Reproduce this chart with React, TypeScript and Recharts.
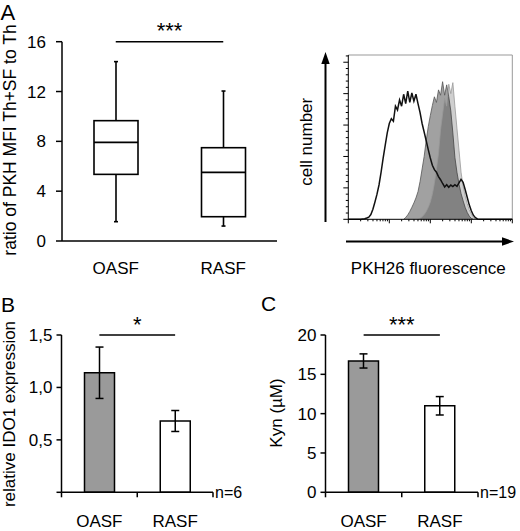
import React from "react";
import {
  ComposedChart,
  BarChart,
  Bar,
  Area,
  Line,
  XAxis,
  YAxis,
  ErrorBar,
  Cell,
  ReferenceLine,
} from "recharts";

const FONT = '"Liberation Sans", Arial, Helvetica, sans-serif';

const GROUPS = ["OASF", "RASF"];

// panel A left: box plot summaries per group
const BOX_MIN = [1.55, 1.2];
const BOX_Q1 = [5.35, 1.95];
const BOX_MEDIAN = [7.92, 5.51];
const BOX_Q3 = [9.66, 7.49];
const BOX_MAX = [14.4, 12.04];
const BOX_TICKS = [0, 4, 8, 12, 16];

// panel B: relative IDO1 expression
const IDO1_MEAN = [1.14, 0.68];
const IDO1_ERR = [0.245, 0.1];
const IDO1_TICKS = [0, 0.5, 1, 1.5];

// panel C: Kyn (uM)
const KYN_MEAN = [16.7, 11.0];
const KYN_ERR = [0.9, 1.17];
const KYN_TICKS = [0, 5, 10, 15, 20];

// panel A right: PKH26 histograms, x in log decades
const DECADE = [
  0, 0.3, 0.35, 0.4, 0.45, 0.5, 0.55, 0.6, 0.65, 0.7, 0.75, 0.8, 0.85, 0.9, 0.95,
  1.0, 1.05, 1.1, 1.15, 1.2, 1.25, 1.3, 1.35, 1.4, 1.45, 1.5, 1.55, 1.6, 1.65, 1.7,
  1.75, 1.8, 1.85, 1.9, 1.95, 2.0, 2.05, 2.1, 2.15, 2.2, 2.25, 2.3, 2.35, 2.4, 2.45,
  2.5, 2.55, 2.6, 2.65, 2.7, 2.75, 2.8, 2.85, 2.9, 2.95, 3.0, 3.05, 3.1, 3.15, 3.2, 4,
];
const OPEN = [
  0, 0, 0.01, 0.02, 0.04, 0.07, 0.15, 0.32, 0.55, 0.8, 1.1, 1.5, 1.95, 2.35, 2.75,
  3.05, 3.2, 3.12, 3.6, 3.48, 3.8, 3.6, 3.98, 3.68, 4.08, 3.72, 4.02, 3.76, 3.98, 3.68,
  3.4, 3.05, 2.78, 2.5, 2.22, 1.95, 1.72, 1.58, 1.5, 1.36, 1.26, 1.14, 1.03, 1.1, 1.02,
  1.09, 1.04, 1.1, 1.05, 1.16, 1.27, 1.18, 0.95, 0.7, 0.46, 0.27, 0.13, 0.05, 0.01, 0, 0,
];
const MEDIUM = [
  null, null, null, null, null, null, null, null, null, null, null, null, null, null, null,
  null, null, null, null, null, null, null, 0, 0.06, 0.14, 0.25, 0.38, 0.52, 0.68, 0.88,
  1.2, 1.6, 2.0, 2.5, 2.95, 3.3, 3.62, 3.9, 3.72, 4.12, 3.95, 4.38, 3.95, 4.28, 3.9,
  3.45, 2.75, 1.97, 1.5, 1.12, 0.82, 0.59, 0.38, 0.22, 0.1, 0.03, 0, null, null, null, null,
];
const LIGHT = [
  null, null, null, null, null, null, null, null, null, null, null, null, null, null, null,
  null, null, null, null, null, null, null, null, null, null, null, null, null, null, 0,
  0.03, 0.08, 0.15, 0.25, 0.38, 0.55, 0.8, 1.15, 1.6, 2.1, 2.85, 3.35, 3.85, 3.6, 4.3,
  4.0, 4.35, 3.6, 2.9, 2.2, 1.5, 1.05, 0.75, 0.5, 0.3, 0.17, 0.06, 0, null, null, null,
];
const HIST_TOP = 5.23;

const GROUP_FILL: Record<string, string> = { OASF: "#9a9a9a", RASF: "#ffffff" };

const boxData = GROUPS.map((name, i) => ({
  name,
  min: BOX_MIN[i],
  q1: BOX_Q1[i],
  median: BOX_MEDIAN[i],
  q3: BOX_Q3[i],
  max: BOX_MAX[i],
}));
const ido1Data = GROUPS.map((name, i) => ({ name, value: IDO1_MEAN[i], err: IDO1_ERR[i] }));
const kynData = GROUPS.map((name, i) => ({ name, value: KYN_MEAN[i], err: KYN_ERR[i] }));
const histData = DECADE.map((d, i) => ({ d, open: OPEN[i], medium: MEDIUM[i], light: LIGHT[i] }));

// axis ticks for the histogram frame (minor ticks every 0.2, log minors per decade)
const histYTicks: number[] = [];
for (let v = 0; v <= 5.2001; v += 0.2) histYTicks.push(Math.round(v * 10) / 10);
const histXTicks: number[] = [];
for (let k = 0; k < 4; k++) for (let m = 1; m <= 9; m++) histXTicks.push(k + Math.log10(m));
histXTicks.push(4);

const isMajor = (v: number) => Math.abs(v - Math.round(v)) < 1e-6;

function HistYTick({ x, y, payload }: any) {
  const len = isMajor(payload.value) ? 5 : 2.5;
  return <line x1={x} x2={x - len} y1={y} y2={y} stroke="#000" strokeWidth={1} />;
}

function HistXTick({ x, y, payload }: any) {
  const len = isMajor(payload.value) ? 4 : 2;
  return <line x1={x} x2={x} y1={y} y2={y + len} stroke="#000" strokeWidth={1} />;
}

function CategoryTick(props: any) {
  const { x, y, payload, index, baseline, edges } = props;
  const half = payload.offset ?? 0;
  const last = index === GROUPS.length - 1;
  return (
    <g>
      {edges && <line x1={x - half} x2={x - half} y1={y} y2={y + 5} stroke="#000" strokeWidth={1.5} />}
      {edges && last && (
        <line x1={x + half} x2={x + half} y1={y} y2={y + 5} stroke="#000" strokeWidth={1.5} />
      )}
      <text x={x} y={y + baseline} textAnchor="middle" fontSize={17} fill="#000">
        {payload.value}
      </text>
    </g>
  );
}

function BoxShape(props: any) {
  const { x, y, width, height } = props;
  const p = props.payload ?? props;
  const top = Math.min(y, y + height);
  const h = Math.abs(height);
  const toY = (v: number) => top + ((p.max - v) / (p.max - p.min)) * h;
  const cx = x + width / 2;
  return (
    <g stroke="#000" strokeWidth={1.6} fill="none">
      <line x1={cx} x2={cx} y1={toY(p.max)} y2={toY(p.q3)} />
      <line x1={cx} x2={cx} y1={toY(p.q1)} y2={toY(p.min)} />
      <line x1={cx - 2} x2={cx + 2} y1={toY(p.max)} y2={toY(p.max)} />
      <line x1={cx - 2} x2={cx + 2} y1={toY(p.min)} y2={toY(p.min)} />
      <rect x={x} y={toY(p.q3)} width={width} height={toY(p.q1) - toY(p.q3)} fill="#fff" />
      <line x1={x} x2={x + width} y1={toY(p.median)} y2={toY(p.median)} />
    </g>
  );
}

const axisStyle = { stroke: "#000", strokeWidth: 1.5 };
const tickText = { fill: "#000", fontSize: 17 };
const commaFmt = (v: number) => (v === 0 ? "" : v.toFixed(1).replace(".", ","));

function BarPanel({ data, ticks, fmt, yWidth, right, err }: any) {
  return (
    <BarChart width={260} height={241} data={data} margin={{ top: 45, right, bottom: 0, left: 0 }}>
      <XAxis
        dataKey="name"
        height={38.7}
        axisLine={axisStyle}
        tickLine={false}
        tickSize={0}
        tickMargin={0}
        interval={0}
        tick={(p: any) => <CategoryTick {...p} baseline={34.7} edges />}
      />
      <YAxis
        width={yWidth}
        domain={[ticks[0], ticks[ticks.length - 1]]}
        ticks={ticks}
        interval={0}
        axisLine={axisStyle}
        tickLine={axisStyle}
        tickSize={5}
        tickMargin={4}
        tick={tickText}
        tickFormatter={fmt}
      />
      <Bar dataKey="value" barSize={30} stroke="#000" strokeWidth={1.5} isAnimationActive={false}>
        {data.map((d: any) => (
          <Cell key={d.name} fill={GROUP_FILL[d.name]} />
        ))}
        <ErrorBar dataKey="err" width={4} stroke="#000" strokeWidth={1.5} />
      </Bar>
      <ReferenceLine
        segment={[
          { x: GROUPS[0], y: ticks[ticks.length - 1] },
          { x: GROUPS[1], y: ticks[ticks.length - 1] },
        ]}
        stroke="#000"
        strokeWidth={1.5}
        label={{ value: err, position: "top", offset: 3, fontSize: 22, fill: "#000" }}
      />
    </BarChart>
  );
}

export default function App() {
  return (
    <div
      style={{
        position: "absolute",
        left: 0,
        top: 0,
        width: 520,
        height: 531,
        background: "#fff",
        fontFamily: FONT,
        overflow: "hidden",
      }}
    >
      {/* A: box plot */}
      <div style={{ position: "absolute", left: 0, top: 0 }}>
        <ComposedChart width={280} height={290} data={boxData} margin={{ top: 41.7, right: 3, bottom: 0, left: 0 }}>
          <XAxis
            dataKey="name"
            height={49}
            axisLine={axisStyle}
            tickLine={false}
            tickSize={0}
            tickMargin={0}
            interval={0}
            tick={(p: any) => <CategoryTick {...p} baseline={33} edges={false} />}
          />
          <YAxis
            width={62}
            domain={[0, 16]}
            ticks={BOX_TICKS}
            interval={0}
            axisLine={axisStyle}
            tickLine={axisStyle}
            tickSize={6}
            tickMargin={10}
            tick={tickText}
          />
          <Bar
            dataKey={(d: any) => [d.min, d.max]}
            barSize={44}
            shape={(p: any) => <BoxShape {...p} />}
            isAnimationActive={false}
          />
          <ReferenceLine
            segment={[
              { x: GROUPS[0], y: 16 },
              { x: GROUPS[1], y: 16 },
            ]}
            stroke="#000"
            strokeWidth={1.5}
            label={{ value: "***", position: "top", offset: 4, fontSize: 22, fill: "#000" }}
          />
        </ComposedChart>
      </div>

      {/* A: PKH26 histogram */}
      <div style={{ position: "absolute", left: 300, top: 0 }}>
        <ComposedChart width={220} height={290} data={histData} margin={{ top: 55, right: 7.7, bottom: 0, left: 0 }}>
          <XAxis
            dataKey="d"
            type="number"
            domain={[0, 4]}
            ticks={histXTicks}
            interval={0}
            height={70.7}
            axisLine={{ stroke: "#000", strokeWidth: 1 }}
            tickLine={false}
            tickSize={0}
            tickMargin={0}
            tick={(p: any) => <HistXTick {...p} />}
          />
          <YAxis
            type="number"
            domain={[0, HIST_TOP]}
            ticks={histYTicks}
            interval={0}
            width={48.3}
            axisLine={{ stroke: "#000", strokeWidth: 1 }}
            tickLine={false}
            tickSize={0}
            tickMargin={0}
            tick={(p: any) => <HistYTick {...p} />}
          />
          <ReferenceLine y={HIST_TOP} stroke="#999" strokeWidth={1} />
          <ReferenceLine x={4} stroke="#999" strokeWidth={1} />
          <Area
            dataKey="medium"
            type="linear"
            fill="#000"
            fillOpacity={0.37}
            stroke="#555"
            strokeWidth={0.8}
            connectNulls={false}
            isAnimationActive={false}
          />
          <Area
            dataKey="light"
            type="linear"
            fill="#000"
            fillOpacity={0.19}
            stroke="#999"
            strokeWidth={0.8}
            connectNulls={false}
            isAnimationActive={false}
          />
          <Line dataKey="open" type="linear" stroke="#111" strokeWidth={1.5} dot={false} isAnimationActive={false} />
        </ComposedChart>
      </div>

      {/* B */}
      <div style={{ position: "absolute", left: 0, top: 290 }}>
        <BarPanel data={ido1Data} ticks={IDO1_TICKS} fmt={commaFmt} yWidth={61.5} right={47} err="*" />
      </div>

      {/* C */}
      <div style={{ position: "absolute", left: 260, top: 290 }}>
        <BarPanel data={kynData} ticks={KYN_TICKS} fmt={(v: number) => String(v)} yWidth={65.5} right={42} err="***" />
      </div>

      {/* labels and arrows */}
      <svg width={520} height={531} style={{ position: "absolute", left: 0, top: 0, pointerEvents: "none" }}>
        <g fill="#000" fontFamily={FONT}>
          <text x={0.5} y={20} fontSize={22}>A</text>
          <text x={1} y={311.7} fontSize={21}>B</text>
          <text x={261} y={310.7} fontSize={21}>C</text>

          <text transform="translate(15.5,140) rotate(-90)" textAnchor="middle" fontSize={17.5}>
            ratio of PKH MFI Th+SF to Th
          </text>
          <text transform="translate(15,414) rotate(-90)" textAnchor="middle" fontSize={17}>
            relative IDO1 expression
          </text>
          <text transform="translate(282,413) rotate(-90)" textAnchor="middle" fontSize={17}>
            Kyn (µM)
          </text>
          <text transform="translate(311.7,141.7) rotate(-90)" textAnchor="middle" fontSize={17}>
            cell number
          </text>
          <text x={428.3} y={274} textAnchor="middle" fontSize={17}>
            PKH26 fluorescence
          </text>
          <text x={215} y={498.3} fontSize={16}>n=6</text>
          <text x={480} y={498.3} fontSize={16}>n=19</text>
        </g>
        <g stroke="#000" strokeWidth={2}>
          <line x1={325.5} x2={325.5} y1={222} y2={62} />
          <line x1={346} x2={503} y1={241.5} y2={241.5} />
        </g>
        <polygon points="325.5,52 321.3,64 329.7,64" fill="#000" />
        <polygon points="514,241.5 502,237.3 502,245.7" fill="#000" />
      </svg>
    </div>
  );
}
